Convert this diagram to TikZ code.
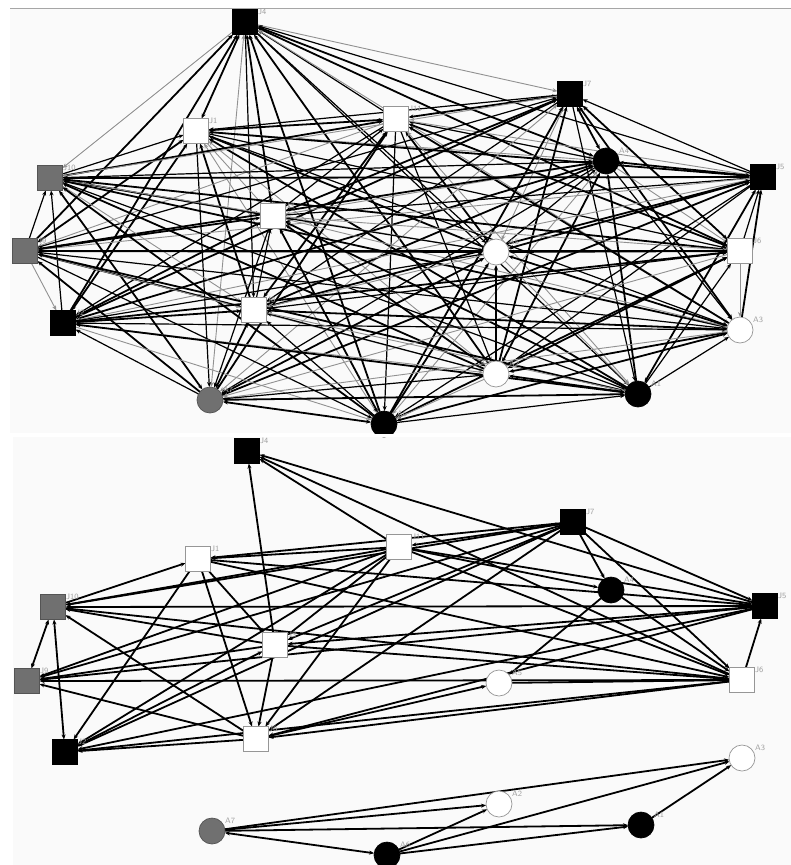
\documentclass[tikz,border=0pt]{standalone}
\usetikzlibrary{arrows.meta}
\pgfdeclarelayer{panel}
\pgfdeclarelayer{edges}
\pgfsetlayers{panel,edges,main}
\definecolor{panelbg}{RGB}{250,250,250}
\definecolor{nodegray}{RGB}{112,112,112}
\definecolor{rimgray}{RGB}{150,150,150}
\definecolor{labelgray}{RGB}{160,160,160}
\definecolor{softline}{RGB}{145,145,145}
\tikzset{
  base/.style={inner sep=0pt, outer sep=0pt, line width=0.7pt},
  sqblack/.style={base, rectangle, minimum size=25pt, fill=black, draw=black},
  sqgray/.style={base, rectangle, minimum size=25pt, fill=nodegray, draw=nodegray!75!black},
  sqwhite/.style={base, rectangle, minimum size=25pt, fill=white, draw=rimgray},
  ciblack/.style={base, circle, minimum size=26pt, fill=black, draw=black},
  cigray/.style={base, circle, minimum size=26pt, fill=nodegray, draw=nodegray!75!black},
  ciwhite/.style={base, circle, minimum size=26pt, fill=white, draw=rimgray},
  lbl/.style={font=\fontsize{8}{9}\selectfont\sffamily, text=labelgray, inner sep=0pt, anchor=north west},
  heavy/.style={line width=1.8pt, draw=black},
  plain/.style={line width=1.2pt, draw=black},
  faint/.style={line width=0.9pt, draw=softline},
  tipend/.style={-{Stealth[length=5pt,width=4pt]}},
  tipboth/.style={{Stealth[length=5pt,width=4pt]}-{Stealth[length=5pt,width=4pt]}},
  fw/.style={heavy, tipend},
  tw/.style={heavy, tipboth},
}
% node with its small grey caption at the upper right
\newcommand\gnode[5]{%
  \node[#4] (#1) at (#2,#3) {};
  \path (#2,#3) ++(13,-13) node[lbl] {#5};
}
\begin{document}
\begin{tikzpicture}[x=1pt,y=-1pt]
\useasboundingbox (0,0) rectangle (791,865);
\begin{pgfonlayer}{panel}
  \fill[white] (0,0) rectangle (791,865);
  \fill[panelbg] (10,8) rectangle (791,433);
  \draw[gray!70, line width=1pt] (10,8) -- (791,8);
  \fill[panelbg] (13,437) rectangle (791,865);
\end{pgfonlayer}

% ---- upper network: all actors ----
\gnode{tJ4}{245}{22}{sqblack}{J4}
\gnode{tJ1}{196}{131}{sqwhite}{J1}
\gnode{tJ11}{396}{119}{sqwhite}{J11}
\gnode{tJ7}{570}{94}{sqblack}{J7}
\gnode{tA4}{606}{161}{ciblack}{A4}
\gnode{tJ5}{763}{177}{sqblack}{J5}
\gnode{tJ10}{50}{178}{sqgray}{J10}
\gnode{tJ3}{273}{216}{sqwhite}{J3}
\gnode{tJ9}{25}{251}{sqgray}{J9}
\gnode{tA5}{496}{252}{ciwhite}{A5}
\gnode{tJ6}{740}{251}{sqwhite}{J6}
\gnode{tJ2}{63}{323}{sqblack}{J2}
\gnode{tJ8}{254}{310}{sqwhite}{J8}
\gnode{tA3}{740}{330}{ciwhite}{A3}
\gnode{tA2}{496}{374}{ciwhite}{A2}
\gnode{tA1}{638}{394}{ciblack}{A1}
\gnode{tA7}{210}{400}{cigray}{A7}
\gnode{tA6}{384}{424}{ciblack}{A6}

\begin{pgfonlayer}{edges}
\foreach \a [count=\i] in {tJ4,tJ1,tJ11,tJ7,tA4,tJ5,tJ10,tJ3,tJ9,tA5,tJ6,tJ2,tJ8,tA3,tA2,tA1,tA7,tA6} {
  \foreach \b [count=\j] in {tJ4,tJ1,tJ11,tJ7,tA4,tJ5,tJ10,tJ3,tJ9,tA5,tJ6,tJ2,tJ8,tA3,tA2,tA1,tA7,tA6} {
    \ifnum\j>\i
      \pgfmathtruncatemacro\k{mod(\i*7+\j*13,10)}
      \pgfmathtruncatemacro\d{mod(\i+2*\j,3)}
      \ifnum\k<5 \def\sty{heavy}\else\ifnum\k<8 \def\sty{plain}\else\def\sty{faint}\fi\fi
      \ifcase\d
        \draw[\sty,tipend] (\a) -- (\b);
      \or
        \draw[\sty,tipend] (\b) -- (\a);
      \or
        \draw[\sty,tipboth] (\a) -- (\b);
      \fi
    \fi
  }
}
\end{pgfonlayer}

% ---- lower network ----
\gnode{bJ4}{247}{451}{sqblack}{J4}
\gnode{bJ1}{198}{559}{sqwhite}{J1}
\gnode{bJ11}{399}{547}{sqwhite}{J11}
\gnode{bJ7}{573}{522}{sqblack}{J7}
\gnode{bA4}{611}{590}{ciblack}{A4}
\gnode{bJ5}{765}{606}{sqblack}{J5}
\gnode{bJ10}{53}{607}{sqgray}{J10}
\gnode{bJ3}{275}{645}{sqwhite}{J3}
\gnode{bJ9}{27}{681}{sqgray}{J9}
\gnode{bA5}{499}{683}{ciwhite}{A5}
\gnode{bJ6}{742}{680}{sqwhite}{J6}
\gnode{bJ2}{65}{752}{sqblack}{J2}
\gnode{bJ8}{256}{739}{sqwhite}{J8}
\gnode{bA3}{742}{758}{ciwhite}{A3}
\gnode{bA2}{499}{804}{ciwhite}{A2}
\gnode{bA1}{641}{825}{ciblack}{A1}
\gnode{bA7}{212}{831}{cigray}{A7}
\gnode{bA6}{387}{855}{ciblack}{A6}

\begin{pgfonlayer}{edges}
\foreach \a/\b/\s in {
  bJ3/bJ4/fw, bJ11/bJ4/fw, bJ5/bJ4/fw, bJ6/bJ4/fw,
  bJ11/bJ1/fw, bJ7/bJ1/fw, bJ10/bJ1/fw, bJ7/bJ11/tw,
  bJ11/bJ10/fw, bJ11/bJ9/fw, bJ11/bJ2/fw, bJ11/bJ8/fw, bJ11/bJ3/fw,
  bJ11/bA4/fw, bJ11/bJ6/fw, bJ11/bJ5/fw,
  bJ7/bJ9/fw, bJ7/bJ2/fw, bJ7/bJ3/fw, bJ7/bJ8/fw, bJ7/bA4/fw,
  bJ7/bJ5/fw, bJ7/bJ6/fw, bJ7/bJ10/fw,
  bJ1/bJ2/fw, bJ1/bJ8/fw, bJ1/bJ3/fw, bJ1/bJ5/fw, bJ1/bJ6/fw,
  bJ6/bJ5/fw, bJ5/bJ10/fw, bJ5/bJ9/fw, bJ5/bJ3/fw, bJ5/bJ8/fw, bJ5/bJ2/fw,
  bA5/bJ6/fw, bJ6/bJ9/fw, bJ6/bJ2/fw, bJ6/bJ8/fw, bJ3/bJ6/fw, bJ10/bJ6/fw,
  bJ10/bJ9/tw, bJ10/bJ2/tw, bJ3/bJ10/fw, bJ8/bJ10/fw,
  bJ3/bJ9/fw, bJ8/bJ9/fw, bJ3/bJ8/fw, bJ2/bJ3/fw, bJ8/bJ2/fw,
  bA4/bA5/fw, bA4/bJ6/fw, bJ8/bA5/fw,
  bA7/bA2/fw, bA7/bA3/fw, bA7/bA1/fw, bA6/bA7/tw,
  bA6/bA2/fw, bA6/bA3/fw, bA6/bA1/fw, bA1/bA3/fw}
  \draw[\s] (\a) -- (\b);
\end{pgfonlayer}

% gap between the two panels
\fill[white] (0,433.5) rectangle (791,437);
\end{tikzpicture}
\end{document}
